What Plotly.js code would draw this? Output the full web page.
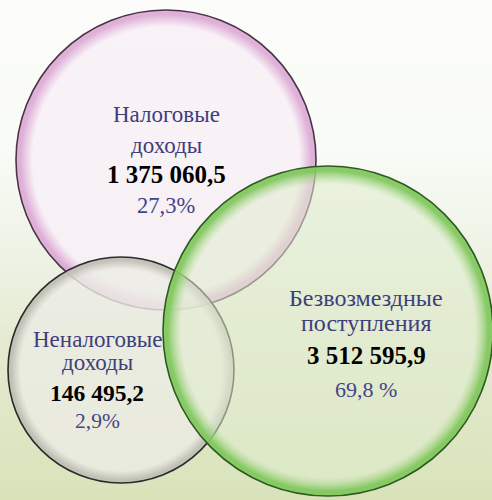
<!DOCTYPE html>
<html><head><meta charset="utf-8">
<script src="https://cdn.plot.ly/plotly-3.0.1.min.js"></script>
<style>
html,body{margin:0;padding:0;}
body{width:492px;height:500px;overflow:hidden;background:linear-gradient(to bottom,#fcfdfb 0%,#f9fbf6 30%,#eef3e6 50%,#e4eacf 70%,#d8e3ba 100%);}
#chart{width:492px;height:500px;}
</style>
</head><body><div id="chart"></div>
<script>
// ---- data ----
const categories = ['Налоговые<br>доходы', 'Безвозмездные<br>поступления', 'Неналоговые<br>доходы'];
const values = [1375060.5, 3512595.9, 146495.2];
const percents = ['27,3%', '69,8 %', '2,9%'];

// ---- layout (pixel positions in a 492x500 frame) ----
const centerX = [166, 328, 121];
const centerY = [160, 331, 370];
const diameters = [300, 330, 226];
const textX = [166, 366, 97];
const lineY = [[114, 145, 174, 205], [298, 323, 355, 389], [339, 362, 393, 421]];
const labelSize = [23, 24, 23];
const valueSize = [25, 25, 23.5];
const pctSize = [22.5, 22, 21.5];
const centerCol = ['rgba(248,240,246,0.9)', 'rgba(224,236,206,0.55)', 'rgba(236,236,228,0.8)'];
const rimCol = ['rgba(222,172,214,0.95)', 'rgba(130,200,95,0.95)', 'rgba(192,192,182,0.95)'];
const lineCol = ['#4b3346', '#2e5a22', '#2b2b2b'];
const drawOrder = [0, 2, 1];

function fmt(v) {
  const parts = v.toFixed(1).split('.');
  return parts[0].replace(/\B(?=(\d{3})+(?!\d))/g, ' ') + ',' + parts[1];
}

const traces = drawOrder.map(i => ({
  type: 'scatter', mode: 'markers',
  x: [centerX[i]], y: [centerY[i]],
  hoverinfo: 'skip',
  marker: {
    size: diameters[i], sizemode: 'diameter',
    color: rimCol[i],
    gradient: {type: 'radial', color: centerCol[i]},
    line: {color: lineCol[i], width: 1.6}
  }
}));

const annotations = [];
const serif = 'Times New Roman, Liberation Serif, serif';
categories.forEach((c, i) => {
  const lines = c.split('<br>');
  annotations.push({x: textX[i], y: lineY[i][0], text: lines[0], showarrow: false, font: {family: serif, size: labelSize[i], color: '#3e3e7c'}});
  annotations.push({x: textX[i], y: lineY[i][1], text: lines[1], showarrow: false, font: {family: serif, size: labelSize[i], color: '#3e3e7c'}});
  annotations.push({x: textX[i], y: lineY[i][2], text: '<b>' + fmt(values[i]) + '</b>', showarrow: false, font: {family: serif, size: valueSize[i], color: '#000000'}});
  annotations.push({x: textX[i], y: lineY[i][3], text: percents[i], showarrow: false, font: {family: serif, size: pctSize[i], color: '#45458a'}});
});

const layout = {
  width: 492, height: 500,
  margin: {l: 0, r: 0, t: 0, b: 0},
  paper_bgcolor: 'rgba(0,0,0,0)', plot_bgcolor: 'rgba(0,0,0,0)',
  showlegend: false,
  font: {family: serif},
  xaxis: {range: [0, 492], visible: false, fixedrange: true},
  yaxis: {range: [500, 0], visible: false, fixedrange: true},
  annotations: annotations
};

// sharpen the radial marker gradients into a thin glassy rim
function tweak() {
  const gd = document.getElementById('chart');
  const grads = Array.from(gd.getElementsByTagName('*')).filter(e => /radialgradient/i.test(e.tagName));
  grads.forEach(g => {
    const stops = Array.from(g.children).filter(e => /stop/i.test(e.tagName));
    if (stops.length !== 2) return;
    stops.sort((a, b) => parseFloat(a.getAttribute('offset')) - parseFloat(b.getAttribute('offset')));
    const s0 = stops[0], s1 = stops[1];
    const add = (off, src) => {
      const s = src.cloneNode(true);
      s.setAttribute('offset', off);
      g.insertBefore(s, s1);
    };
    add('89%', s0);
    add('97%', s1);
  });
}

Plotly.newPlot('chart', traces, layout, {staticPlot: true}).then(() => {
  tweak();
  setTimeout(tweak, 100);
});
</script>
</body></html>
